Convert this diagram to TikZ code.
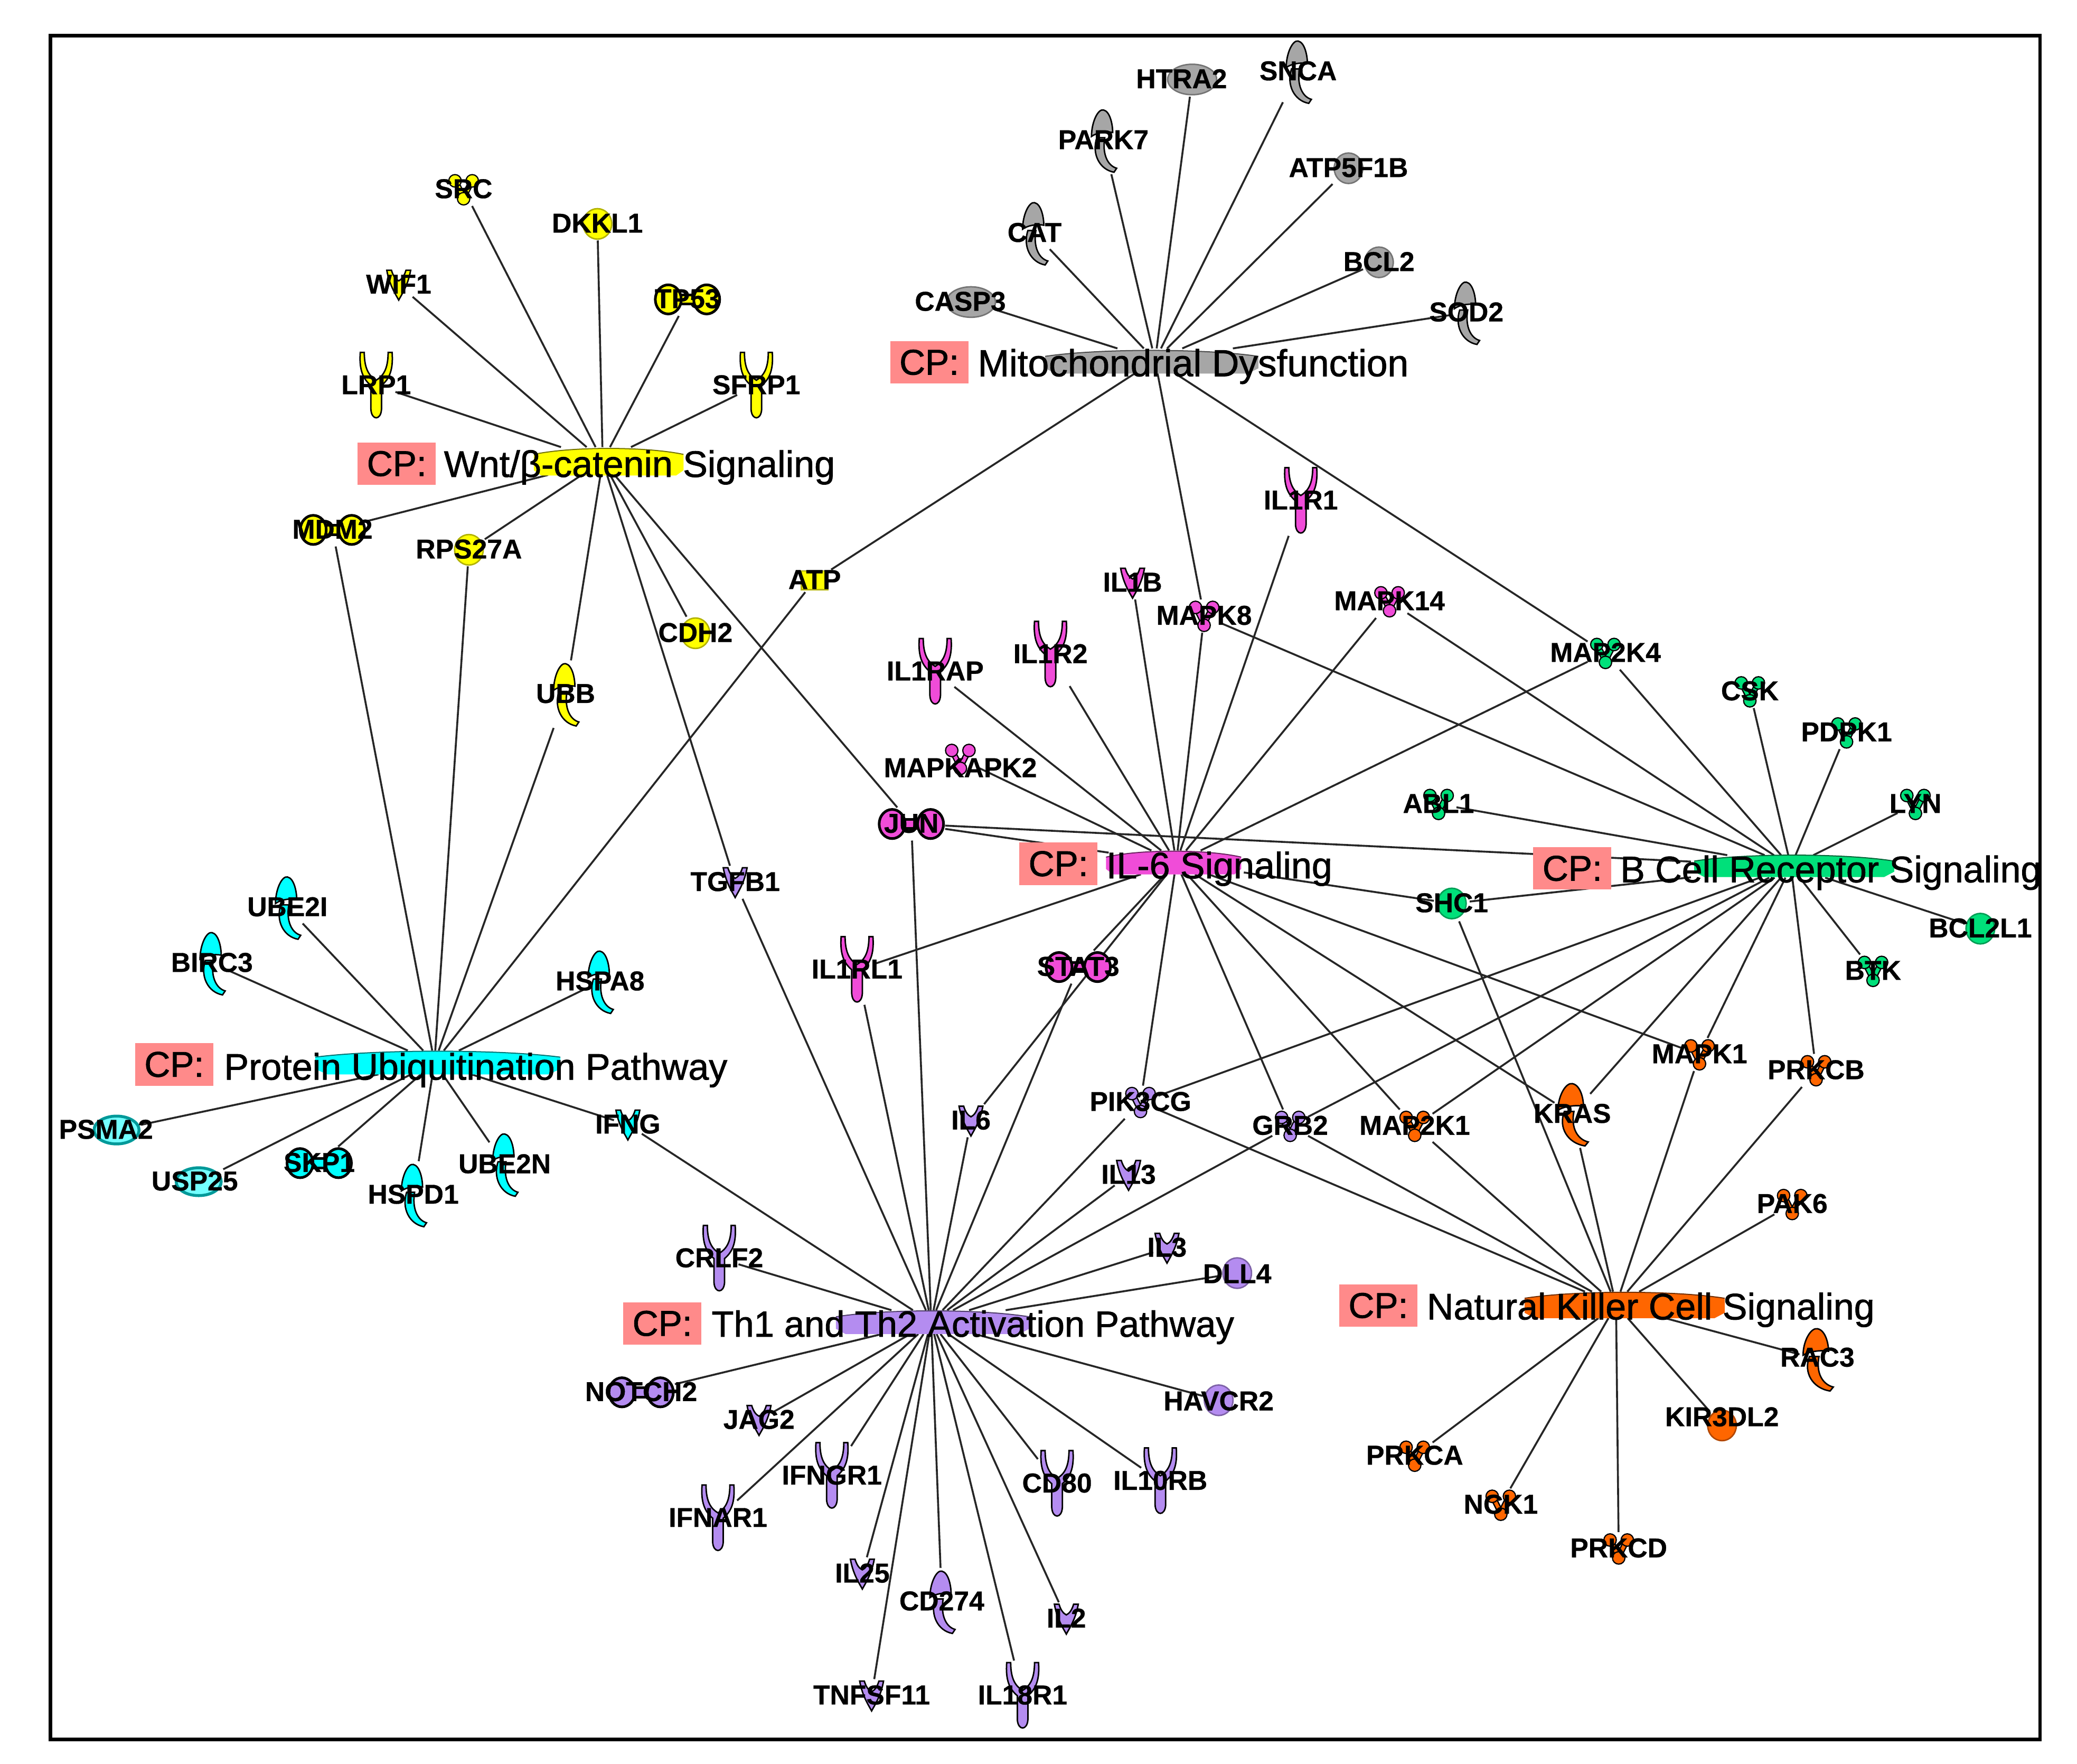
\documentclass[tikz,border=0pt]{standalone}
\usepackage{fontspec}
\setmainfont{Liberation Sans}[BoldFeatures={FakeBold=0.6}]
\newfontfamily\titlefont[FakeBold=1.2]{Liberation Sans}
\pgfdeclarelayer{edgelayer}
\pgfdeclarelayer{glyphlayer}
\pgfsetlayers{edgelayer,glyphlayer,main}
\definecolor{cYel}{HTML}{FFFF00}
\definecolor{cGry}{HTML}{A6A6A6}
\definecolor{cPnk}{HTML}{F04CD8}
\definecolor{cGrn}{HTML}{00E07A}
\definecolor{cOrg}{HTML}{FF6600}
\definecolor{cPur}{HTML}{B48CF0}
\definecolor{cCyn}{HTML}{00FFFF}
\definecolor{cRed}{HTML}{FF8A8A}
\tikzset{
  edge/.style={draw=black!85,line width=1.45},
  gl/.style={fill=#1,draw=black,line width=1.1},
  glsoft/.style={fill=#1,draw=#1!70!black,line width=1.1},
  genebox/.style={inner sep=0pt,outer sep=1.5pt,font=\bfseries\fontsize{20.6}{22}\selectfont},
  hubbox/.style={inner sep=0pt,outer sep=0pt},
  cpbox/.style={fill=cRed,inner sep=0pt,minimum width=59pt,minimum height=32pt,font=\titlefont\fontsize{27}{30}\selectfont},
  cptext/.style={inner sep=0pt,anchor=base west,font=\titlefont\fontsize{27.9}{30}\selectfont}
}
% glyphs, drawn round the origin
\newcommand{\glrec}[1]{\path[gl=#1] (-12,-25) .. controls (-13,-12) and (-10,-5) .. (-4,0) -- (-4,18) .. controls (-3.5,26.5) and (3.5,26.5) .. (4,18) -- (4,0) .. controls (10,-5) and (13,-12) .. (12,-25) -- (9,-25) .. controls (9,-12) and (5,-7) .. (0,-4) .. controls (-5,-7) and (-9,-12) .. (-9,-25) -- cycle;}
\newcommand{\glsci}[1]{\path[gl=#1] (-5,-2) .. controls (-9,10) and (-3,22) .. (8,24) -- (10,21) .. controls (3,19) and (-1,10) .. (1,-2) -- cycle;
  \path[gl=#1] (-9,-3) .. controls (-9,-14) and (-4,-24) .. (0,-23) .. controls (5,-22) and (7,-12) .. (7,-6) .. controls (2,-7) and (-5,-6) .. (-9,-3) -- cycle;}
\newcommand{\glscw}[1]{\begin{scope}[xscale=1.2]\glsci{#1}\end{scope}}
\newcommand{\glkin}[1]{\draw[black,line width=4.6] (-6,-6) -- (0,6) -- (6,-6);
  \draw[#1,line width=2.6] (-6,-6) -- (0,6) -- (6,-6);
  \path[gl=#1,line width=.9] (-6.5,-6.5) circle (4.7) (6.5,-6.5) circle (4.7) (0,7) circle (4.7);}
\newcommand{\glcyt}[1]{\path[gl=#1] (-9,-11) -- (-5.5,-11) .. controls (-4,-6) and (-2,-4) .. (0,-3) .. controls (2,-4) and (4,-6) .. (5.5,-11) -- (9,-11) .. controls (7,0) and (3,6) .. (0,11.5) .. controls (-3,6) and (-7,0) .. (-9,-11) -- cycle;}
\newcommand{\gldbl}[1]{\path[gl=#1,line width=2] (-7,-3.5) rectangle (7,3.5);
  \path[gl=#1,line width=2] (-14.5,0) ellipse (9.8 and 11) (14.5,0) ellipse (9.8 and 11);}
\newcommand{\glcir}[1]{\path[glsoft=#1] (0,0) ellipse (10.8 and 11.5);}
\newcommand{\glovl}[1]{\path[glsoft=#1] (0,0) ellipse (18.5 and 11.5);}
\newcommand{\glrng}[1]{\path[fill=#1!55,draw=#1!60!black,line width=2.2] (0,0) ellipse (17 and 10.5);}
\newcommand{\glbar}[1]{\path[glsoft=#1] (-10,-7) rectangle (10,7);}
% \genex[label y offset]{name}{x}{y}{glyph}{w}{h}{colour}; \lx is the label's x offset
\def\lx{0}
\newcommand{\genex}[8][0]{%
  \node[genebox,minimum width=#6pt,minimum height=#7pt] (#2) at (#3,#4) {\smash{\makebox[0pt]{\kern\lx pt\raisebox{\dimexpr-.32em-#1pt\relax}{#2}\kern-\lx pt}}};
  \begin{pgfonlayer}{glyphlayer}\begin{scope}[shift={(#3,#4)}]\csname gl#5\endcsname{#8}\end{scope}\end{pgfonlayer}}
\newcommand{\grec}[5][0]{\genex[#1]{#2}{#3}{#4}{rec}{26}{50}{#5}}
\newcommand{\gsci}[5][0]{\genex[#1]{#2}{#3}{#4}{sci}{20}{48}{#5}}
\newcommand{\gscw}[5][0]{\genex[#1]{#2}{#3}{#4}{scw}{24}{48}{#5}}
\newcommand{\gkin}[5][0]{\genex[#1]{#2}{#3}{#4}{kin}{24}{22}{#5}}
\newcommand{\gcyt}[5][0]{\genex[#1]{#2}{#3}{#4}{cyt}{18}{22}{#5}}
\newcommand{\gdbl}[5][0]{\genex[#1]{#2}{#3}{#4}{dbl}{48}{22}{#5}}
\newcommand{\gcir}[5][0]{\genex[#1]{#2}{#3}{#4}{cir}{21}{22}{#5}}
\newcommand{\govl}[5][0]{\genex[#1]{#2}{#3}{#4}{ovl}{36}{23}{#5}}
\newcommand{\grng}[5][0]{\genex[#1]{#2}{#3}{#4}{rng}{34}{21}{#5}}
% \hubnode{name}{cx}{cy}{left}{right}{top}{bottom}{colour}
\newcommand{\hubnode}[8]{%
  \pgfmathsetmacro\hubw{#5-#4}\pgfmathsetmacro\hubh{#7-#6}
  \node[hubbox,minimum width=\hubw pt,minimum height=\hubh pt] (#1) at (#2,#3) {};
  \begin{pgfonlayer}{glyphlayer}
  \path[fill=#8] (#4,#6+5) .. controls ({#4+.25*\hubw},#6-1) and ({#5-.25*\hubw},#6-1) .. (#5,#6+5) -- (#5,#7-4) -- ({#5-.05*\hubw},#7) -- ({#4+.05*\hubw},#7) -- (#4,#7-4) -- cycle;
  \draw[#8!45!black,line width=.8] (#4,#6+5) .. controls ({#4+.25*\hubw},#6-1) and ({#5-.25*\hubw},#6-1) .. (#5,#6+5);
  \end{pgfonlayer}}
% \cptitle{name}{boxx}{boxy}{textx}{texty}{text}
\newcommand{\cptitle}[6]{%
  \node[cpbox] (#1box) at (#2,#3) {CP:};
  \node[cptext] (#1text) at (#4,#5+10) {#6};}
\begin{document}
\begin{tikzpicture}[x=1pt,y=-1pt]
\useasboundingbox (0,0) rectangle (1568,1331.2);
\node[draw=black,line width=2.6,inner sep=0pt,minimum width=1502pt,minimum height=1286pt] (frame) at (789,670) {};

% hubs
\hubnode{wnt}{455}{348}{403}{516}{338}{359}{cYel}
\hubnode{mito}{872}{272}{789}{950}{264}{282}{cGry}
\hubnode{ub}{328}{802}{238}{423}{793}{811}{cCyn}
\hubnode{ilsix}{888}{651}{835}{937}{642}{660}{cPnk}
\hubnode{bcr}{1352}{654}{1279}{1430}{645}{662}{cGrn}
\hubnode{thone}{703}{998}{631}{777}{989}{1007}{cPur}
\hubnode{nk}{1220}{985}{1151}{1302}{975}{995}{cOrg}

% Wnt genes
\gkin{SRC}{350}{143}{cYel}
\gcir{DKKL1}{451}{169}{cYel}
\gcyt{WIF1}{301}{215}{cYel}
\gdbl{TP53}{519}{226}{cYel}
\grec{LRP1}{284}{291}{cYel}
\grec{SFRP1}{571}{291}{cYel}
\gdbl{MDM2}{251}{400}{cYel}
\gcir{RPS27A}{354}{415}{cYel}
\gsci{UBB}{427}{524}{cYel}
\gcir{CDH2}{525}{478}{cYel}
\genex{ATP}{615}{438}{bar}{22}{15}{cYel}
% Mitochondrial genes
\def\lx{-8}\govl{HTRA2}{900}{60}{cGry}\def\lx{0}
\gsci{SNCA}{980}{54}{cGry}
\gsci{PARK7}{833}{106}{cGry}
\genex{ATP5F1B}{1018}{127}{cir}{21}{22}{cGry}
\gsci{CAT}{781}{176}{cGry}
\genex{BCL2}{1041}{198}{cir}{21}{22}{cGry}
\def\lx{-8}\govl{CASP3}{733}{228}{cGry}\def\lx{0}
\gsci{SOD2}{1107}{236}{cGry}
% IL-6 genes
\grec{IL1R1}{982}{378}{cPnk}
\gcyt{IL1B}{855}{440}{cPnk}
\gkin{MAPK8}{909}{465}{cPnk}
\gkin{MAPK14}{1049}{454}{cPnk}
\grec{IL1R2}{793}{494}{cPnk}
\grec{IL1RAP}{706}{507}{cPnk}
\gkin[7]{MAPKAPK2}{725}{573}{cPnk}
\gdbl{JUN}{688}{622}{cPnk}
\grec{IL1RL1}{647}{732}{cPnk}
\gdbl{STAT3}{814}{730}{cPnk}
% B cell genes
\gkin{MAP2K4}{1212}{493}{cGrn}
\gkin{CSK}{1321}{522}{cGrn}
\gkin{PDPK1}{1394}{553}{cGrn}
\gkin{ABL1}{1086}{607}{cGrn}
\gkin{LYN}{1446}{607}{cGrn}
\genex{SHC1}{1096}{682}{cir}{24}{24}{cGrn}
\gcir{BCL2L1}{1495}{701}{cGrn}
\gkin{BTK}{1414}{733}{cGrn}
% NK genes
\gkin{MAPK1}{1283}{796}{cOrg}
\gkin{PRKCB}{1371}{808}{cOrg}
\gscw{KRAS}{1187}{841}{cOrg}
\gkin{MAP2K1}{1068}{850}{cOrg}
\gkin{PAK6}{1353}{909}{cOrg}
\gscw[-1]{RAC3}{1372}{1026}{cOrg}
\gcir[-6]{KIR3DL2}{1300}{1076}{cOrg}
\gkin{PRKCA}{1068}{1099}{cOrg}
\gkin{NCK1}{1133}{1136}{cOrg}
\gkin{PRKCD}{1222}{1169}{cOrg}
% Th1/Th2 genes
\gcyt{TGFB1}{555}{666}{cPur}
\gkin{PIK3CG}{861}{832}{cPur}
\gkin{GRB2}{974}{850}{cPur}
\gcyt{IL6}{733}{846}{cPur}
\gcyt{IL13}{852}{887}{cPur}
\gcyt{IL3}{881}{942}{cPur}
\gcir[1]{DLL4}{934}{961}{cPur}
\grec{CRLF2}{543}{950}{cPur}
\gdbl{NOTCH2}{484}{1051}{cPur}
\gcyt{JAG2}{573}{1072}{cPur}
\gcir[1]{HAVCR2}{920}{1057}{cPur}
\grec{IFNGR1}{628}{1114}{cPur}
\grec{IFNAR1}{542}{1146}{cPur}
\grec{CD80}{798}{1120}{cPur}
\grec{IL10RB}{876}{1118}{cPur}
\gcyt{IL25}{651}{1188}{cPur}
\gsci{CD274}{711}{1209}{cPur}
\gcyt{IL2}{805}{1222}{cPur}
\gcyt{TNFSF11}{658}{1280}{cPur}
\grec{IL18R1}{772}{1280}{cPur}
% Ubiquitination genes
\gsci{UBE2I}{217}{685}{cCyn}
\gsci{BIRC3}{160}{727}{cCyn}
\gsci{HSPA8}{453}{741}{cCyn}
\def\lx{-8}\grng{PSMA2}{88}{853}{cCyn}\def\lx{-3}\grng{USP25}{150}{892}{cCyn}\def\lx{0}
\gdbl{SKP1}{241}{878}{cCyn}
\gsci{HSPD1}{312}{902}{cCyn}
\gsci{UBE2N}{381}{879}{cCyn}
\gcyt{IFNG}{474}{849}{cCyn}

% pathway titles
\cptitle{wnt}{299.5}{350}{335}{350}{Wnt/β-catenin Signaling}
\cptitle{mito}{701.5}{273.5}{738}{274}{\fontsize{28.4}{30}\selectfont Mitochondrial Dysfunction}
\cptitle{ub}{131.5}{803.5}{169}{805}{Protein Ubiquitination Pathway}
\cptitle{ilsix}{799}{652}{835}{653}{IL-6 Signaling}
\cptitle{bcr}{1187}{655.5}{1223}{656}{B Cell Receptor Signaling}
\cptitle{thone}{500}{999}{537}{999}{\fontsize{27.4}{30}\selectfont Th1 and Th2 Activation Pathway}
\cptitle{nk}{1040.5}{985.5}{1077}{986}{Natural Killer Cell Signaling}

% connectors
\begin{pgfonlayer}{edgelayer}
\foreach \g in {SRC,DKKL1,WIF1,TP53,LRP1,SFRP1,MDM2,RPS27A,UBB,CDH2,TGFB1,JUN}
  \draw[edge] (wnt) -- (\g);
\foreach \g in {HTRA2,SNCA,PARK7,ATP5F1B,CAT,BCL2,CASP3,SOD2,ATP,MAPK8,MAP2K4}
  \draw[edge] (mito) -- (\g);
\foreach \g in {MDM2,RPS27A,UBB,ATP,UBE2I,BIRC3,HSPA8,PSMA2,USP25,SKP1,HSPD1,UBE2N,IFNG}
  \draw[edge] (ub) -- (\g);
\foreach \g in {IL1R1,IL1B,MAPK8,MAPK14,IL1R2,IL1RAP,MAPKAPK2,MAP2K4,JUN,SHC1,IL1RL1,STAT3,IL6,PIK3CG,GRB2,MAP2K1,KRAS,MAPK1}
  \draw[edge] (ilsix) -- (\g);
\foreach \g in {MAP2K4,MAPK8,MAPK14,CSK,PDPK1,LYN,ABL1,BCL2L1,BTK,JUN,SHC1,PRKCB,MAPK1,KRAS,MAP2K1,GRB2,PIK3CG}
  \draw[edge] (bcr) -- (\g);
\foreach \g in {JUN,TGFB1,IL1RL1,STAT3,IL6,PIK3CG,IL13,GRB2,IL3,DLL4,IFNG,CRLF2,NOTCH2,JAG2,IFNGR1,IFNAR1,IL25,TNFSF11,CD274,IL18R1,IL2,CD80,IL10RB,HAVCR2}
  \draw[edge] (thone) -- (\g);
\foreach \g in {PIK3CG,GRB2,MAP2K1,SHC1,KRAS,MAPK1,PRKCB,PAK6,RAC3,KIR3DL2,PRKCD,NCK1,PRKCA}
  \draw[edge] (nk) -- (\g);
\end{pgfonlayer}
\end{tikzpicture}
\end{document}
